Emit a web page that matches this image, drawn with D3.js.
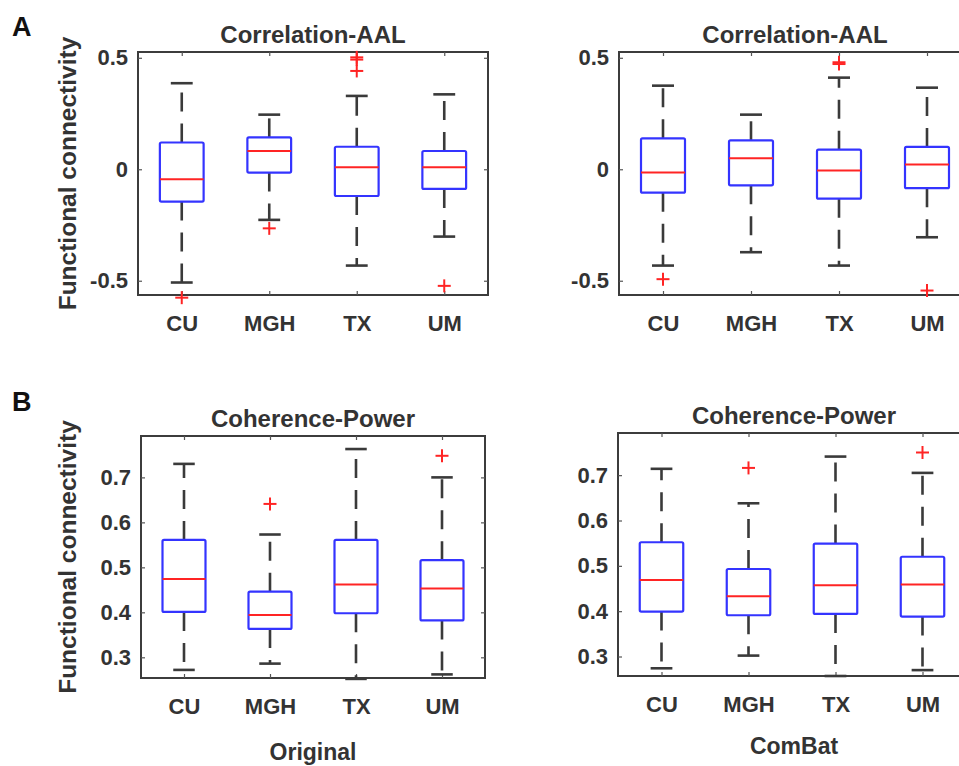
<!DOCTYPE html>
<html>
<head>
<meta charset="utf-8">
<script src="https://cdn.jsdelivr.net/npm/d3@7"></script>
<style>
  html, body { margin: 0; padding: 0; background: #fff; }
  svg { display: block; }
  text { font-family: "Liberation Sans", Arial, Helvetica, sans-serif; font-weight: bold; }
</style>
</head>
<body>
<svg id="chart" width="959" height="766"></svg>
<script>
// ---------------- DATA ----------------
const categories = ["CU", "MGH", "TX", "UM"];

// five-number summaries per site: [lower whisker, Q1, median, Q3, upper whisker]
const aalOriginal = [
  [-0.508, -0.145, -0.045, 0.120, 0.386],
  [-0.227, -0.015, 0.082, 0.143, 0.245],
  [-0.432, -0.120, 0.009, 0.101, 0.329],
  [-0.302, -0.088, 0.009, 0.082, 0.336]
];
const aalOriginalOutliers = [[-0.576], [-0.265], [0.502, 0.492, 0.441], [-0.523]];

const aalCombat = [
  [-0.432, -0.105, -0.015, 0.139, 0.375],
  [-0.372, -0.072, 0.049, 0.130, 0.245],
  [-0.432, -0.132, -0.006, 0.088, 0.411],
  [-0.305, -0.085, 0.021, 0.100, 0.366]
];
const aalCombatOutliers = [[-0.493], [], [0.480, 0.472], [-0.544]];

const powerOriginal = [
  [0.272, 0.401, 0.474, 0.561, 0.730],
  [0.286, 0.363, 0.394, 0.446, 0.573],
  [0.252, 0.398, 0.462, 0.561, 0.763],
  [0.262, 0.382, 0.453, 0.516, 0.700]
];
const powerOriginalOutliers = [[], [0.641], [], [0.748]];

const powerCombat = [
  [0.274, 0.399, 0.469, 0.552, 0.714],
  [0.302, 0.391, 0.433, 0.493, 0.638],
  [0.257, 0.394, 0.457, 0.549, 0.741],
  [0.270, 0.388, 0.459, 0.520, 0.705]
];
const powerCombatOutliers = [[], [0.716], [], [0.750]];

const aalTicks = [-0.5, 0, 0.5];
const aalTickLabels = ["-0.5", "0", "0.5"];
const powerTicks = [0.3, 0.4, 0.5, 0.6, 0.7];
const powerTickLabels = ["0.3", "0.4", "0.5", "0.6", "0.7"];

const titles = ["Correlation-AAL", "Coherence-Power"];
const yAxisTitle = "Functional connectivity";
const columnTitles = ["Original", "ComBat"];
const panelLetters = ["A", "B"];

// ---------------- LAYOUT ----------------
const svg = d3.select("#chart");
const C_BOX = "#3434ff", C_MED = "#ff2424", C_WHISK = "#3a3a3a", C_AXIS = "#3c3c3c", C_TEXT = "#333333";

const panels = [
  { title: titles[0], stats: aalOriginal, out: aalOriginalOutliers, ticks: aalTicks, tickLabels: aalTickLabels,
    x0: 138, x1: 488, y0: 52, y1: 295, domain: [-0.564, 0.526], showY: true },
  { title: titles[0], stats: aalCombat, out: aalCombatOutliers, ticks: aalTicks, tickLabels: aalTickLabels,
    x0: 619, x1: 971, y0: 52, y1: 295, domain: [-0.564, 0.526], showY: false },
  { title: titles[1], stats: powerOriginal, out: powerOriginalOutliers, ticks: powerTicks, tickLabels: powerTickLabels,
    x0: 141, x1: 485, y0: 436, y1: 678, domain: [0.254, 0.792], showY: true, colTitle: columnTitles[0] },
  { title: titles[1], stats: powerCombat, out: powerCombatOutliers, ticks: powerTicks, tickLabels: powerTickLabels,
    x0: 618, x1: 966, y0: 433, y1: 676, domain: [0.257, 0.793], showY: false, colTitle: columnTitles[1] }
];

panels.forEach((p) => {
  const x = d3.scalePoint().domain(categories).range([p.x0, p.x1]).padding(0.5);
  const y = d3.scaleLinear().domain(p.domain).range([p.y1, p.y0]);
  const step = x.step();
  const bw = step * 0.5, cw = step * 0.25;
  const g = svg.append("g");
  const cx = (p.x0 + (p.showY ? p.x1 : p.x0 + 352)) / 2;

  // frame
  g.append("rect").attr("x", p.x0).attr("y", p.y0).attr("width", p.x1 - p.x0).attr("height", p.y1 - p.y0)
    .attr("fill", "none").attr("stroke", C_AXIS).attr("stroke-width", 2);

  // left axis (ticks inward)
  const yAxis = d3.axisLeft(y).tickValues(p.ticks).tickFormat((d, i) => p.tickLabels[i]).tickSize(-4).tickPadding(10);
  const ya = g.append("g").attr("transform", `translate(${p.x0},0)`).call(yAxis);
  ya.select(".domain").remove();
  ya.attr("font-family", null).attr("font-size", null);
  ya.selectAll(".tick line").attr("stroke", "#555").attr("stroke-width", 1.2);
  ya.selectAll(".tick text").attr("fill", C_TEXT).style("font-size", "22px");
  // right axis ticks
  const yr = g.append("g").attr("transform", `translate(${p.x1},0)`).call(d3.axisRight(y).tickValues(p.ticks).tickSize(-4).tickFormat(""));
  yr.select(".domain").remove();
  yr.selectAll(".tick line").attr("stroke", "#555").attr("stroke-width", 1.2);

  // bottom axis
  const xa = g.append("g").attr("transform", `translate(0,${p.y1})`).call(d3.axisBottom(x).tickSize(-4).tickPadding(20));
  xa.select(".domain").remove();
  xa.attr("font-family", null).attr("font-size", null);
  xa.selectAll(".tick line").attr("stroke", "#555").attr("stroke-width", 1.2);
  xa.selectAll(".tick text").attr("fill", C_TEXT).style("font-size", "22px");
  const xt = g.append("g").attr("transform", `translate(0,${p.y0})`).call(d3.axisTop(x).tickSize(-4).tickFormat(""));
  xt.select(".domain").remove();
  xt.selectAll(".tick line").attr("stroke", "#555").attr("stroke-width", 1.2);

  // title
  g.append("text").attr("x", cx).attr("y", p.y0 - 9)
    .attr("text-anchor", "middle").attr("fill", C_TEXT).style("font-size", "24px").text(p.title);

  // boxes
  const bx = g.selectAll("g.box").data(p.stats).join("g").attr("class", "box");
  // whiskers (dashed) from box to caps
  bx.append("line").attr("x1", (d, i) => x(categories[i])).attr("x2", (d, i) => x(categories[i]))
    .attr("y1", d => y(d[3])).attr("y2", d => y(d[4]))
    .attr("stroke", C_WHISK).attr("stroke-width", 2.6).attr("stroke-dasharray", "19,12");
  bx.append("line").attr("x1", (d, i) => x(categories[i])).attr("x2", (d, i) => x(categories[i]))
    .attr("y1", d => y(d[1])).attr("y2", d => y(d[0]))
    .attr("stroke", C_WHISK).attr("stroke-width", 2.6).attr("stroke-dasharray", "19,12");
  // caps
  [0, 4].forEach(k => {
    bx.append("line").attr("x1", (d, i) => x(categories[i]) - cw / 2).attr("x2", (d, i) => x(categories[i]) + cw / 2)
      .attr("y1", d => y(d[k])).attr("y2", d => y(d[k]))
      .attr("stroke", C_WHISK).attr("stroke-width", 2.6);
  });
  // box
  bx.append("rect").attr("x", (d, i) => x(categories[i]) - bw / 2).attr("width", bw)
    .attr("y", d => y(d[3])).attr("height", d => y(d[1]) - y(d[3]))
    .attr("fill", "none").attr("stroke", C_BOX).attr("stroke-width", 2.2).attr("rx", 1.5);
  // median
  bx.append("line").attr("x1", (d, i) => x(categories[i]) - bw / 2).attr("x2", (d, i) => x(categories[i]) + bw / 2)
    .attr("y1", d => y(d[2])).attr("y2", d => y(d[2]))
    .attr("stroke", C_MED).attr("stroke-width", 2);

  // outliers as "+"
  const pts = [];
  p.out.forEach((arr, i) => arr.forEach(v => pts.push({ c: categories[i], v })));
  const s = 6.5;
  const og = g.selectAll("g.out").data(pts).join("g").attr("class", "out")
    .attr("transform", d => `translate(${x(d.c)},${y(d.v)})`);
  og.append("line").attr("x1", -s).attr("x2", s).attr("stroke", C_MED).attr("stroke-width", 2);
  og.append("line").attr("y1", -s).attr("y2", s).attr("stroke", C_MED).attr("stroke-width", 2);

  // y axis title
  if (p.showY) {
    const cy = (p.y0 + p.y1) / 2;
    g.append("text").attr("transform", `translate(76,${cy}) rotate(-90)`)
      .attr("text-anchor", "middle").attr("fill", C_TEXT).style("font-size", "24.5px").text(yAxisTitle);
  }
  if (p.colTitle) {
    g.append("text").attr("x", cx).attr("y", p.showY ? 760 : 754)
      .attr("text-anchor", "middle").attr("fill", C_TEXT).style("font-size", "23px").text(p.colTitle);
  }
});

// panel letters
svg.append("text").attr("x", 12).attr("y", 36).attr("fill", "#111").style("font-size", "27px").text(panelLetters[0]);
svg.append("text").attr("x", 12).attr("y", 411).attr("fill", "#111").style("font-size", "27px").text(panelLetters[1]);
</script>
</body>
</html>
